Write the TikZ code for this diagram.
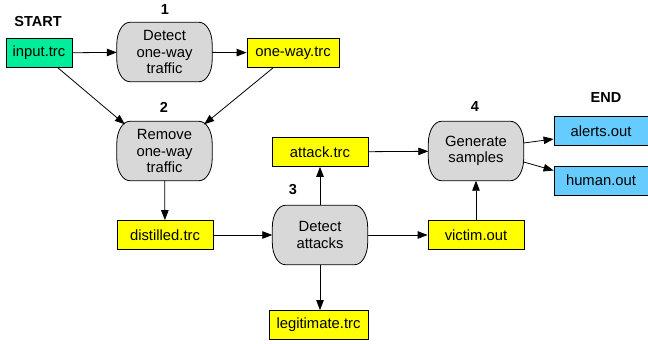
\documentclass[tikz,border=0pt]{standalone}
\usepackage{fontspec}
\setmainfont{Liberation Sans}
\usetikzlibrary{arrows.meta,backgrounds}
\definecolor{boxgreen}{RGB}{0,238,153}
\definecolor{boxyellow}{RGB}{255,255,0}
\definecolor{boxblue}{RGB}{102,204,255}
\definecolor{procgray}{RGB}{216,216,216}
\begin{document}
\begin{tikzpicture}[x=1pt,y=-1pt,
  every node/.style={font=\fontsize{14.8}{16.5}\selectfont},
  filebox/.style={draw, line width=0.8pt, minimum height=29pt, inner sep=2pt},
  procbox/.style={minimum width=95pt, minimum height=59pt, align=center, inner sep=1pt},
  procshape/.style={draw, line width=0.8pt, fill=procgray},
  lbl/.style={font=\bfseries\fontsize{14.5}{16.5}\selectfont},
  conn/.style={-{Triangle[length=10pt,width=7.5pt]}, line width=0.8pt}]
\useasboundingbox (0,0) rectangle (648,343);
% files
\node[filebox, fill=boxgreen, minimum width=66pt] (input) at (39,53) {input.trc};
\node[filebox, fill=boxyellow, minimum width=92pt] (oneway) at (293,53) {one-way.trc};
\node[filebox, fill=boxyellow, minimum width=96pt] (distilled) at (165,235) {distilled.trc};
\node[filebox, fill=boxyellow, minimum width=96pt] (attack) at (320,152) {attack.trc};
\node[filebox, fill=boxyellow, minimum width=99pt] (legit) at (318.5,325) {legitimate.trc};
\node[filebox, fill=boxyellow, minimum width=96pt] (victim) at (476,235) {victim.out};
\node[filebox, fill=boxblue, minimum width=94pt] (alerts) at (601,131) {alerts.out};
\node[filebox, fill=boxblue, minimum width=94pt] (human) at (601,180.5) {human.out};
% processes
\node[procbox] (detect) at (164.5,52) {Detect\\one-way\\traffic};
\node[procbox] (remove) at (164.5,151) {Remove\\one-way\\traffic};
\node[procbox] (attacks) at (320,235) {Detect\\attacks};
\node[procbox] (gen) at (476,151) {Generate\\samples};
\begin{scope}[on background layer]
\foreach \n in {detect,remove,attacks,gen}{
  \draw[procshape] ([xshift=13pt]\n.north west) -- ([xshift=-13pt]\n.north east)
    arc[start angle=90,end angle=0,x radius=13pt,y radius=22pt]
    -- ([yshift=22pt]\n.south east)
    arc[start angle=0,end angle=-90,x radius=13pt,y radius=22pt]
    -- ([xshift=13pt]\n.south west)
    arc[start angle=270,end angle=180,x radius=13pt,y radius=22pt]
    -- ([yshift=-22pt]\n.north west)
    arc[start angle=180,end angle=90,x radius=13pt,y radius=22pt] -- cycle;
}
\end{scope}
% labels
\node[lbl] (start) at (38,22) {START};
\node[lbl] (endl) at (606,98) {END};
\node[lbl] (n1) at (165,10) {1};
\node[lbl] (n2) at (164,107) {2};
\node[lbl] (n3) at (293,190) {3};
\node[lbl] (n4) at (475,107) {4};
% connectors
\draw[conn] (input) -- (detect);
\draw[conn] (detect) -- (oneway);
\draw[conn] ([xshift=19pt]input.south) -- ([xshift=8pt,yshift=-3pt]remove.north west);
\draw[conn] ([xshift=-20pt]oneway.south) -- ([xshift=-8pt,yshift=-3pt]remove.north east);
\draw[conn] (remove) -- (distilled);
\draw[conn] (distilled) -- (attacks);
\draw[conn] (attacks) -- (attack);
\draw[conn] (attacks) -- (legit.north -| attacks);
\draw[conn] (attacks) -- (victim);
\draw[conn] (attack) -- (gen);
\draw[conn] (victim) -- (gen);
\draw[conn] ([yshift=8pt]gen.east) -- ([yshift=-8pt]alerts.west);
\draw[conn] ([yshift=-11pt]gen.east) -- ([yshift=10pt]human.west);
\end{tikzpicture}
\end{document}
